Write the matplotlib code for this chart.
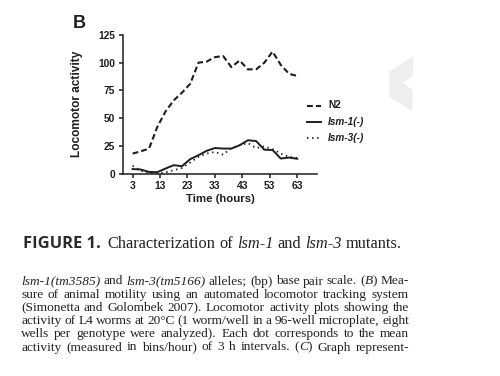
import matplotlib
matplotlib.use("Agg")
import matplotlib.pyplot as plt
from matplotlib.lines import Line2D
from matplotlib.patches import Polygon

# ---------------- data ----------------
hours = [3, 6, 9, 12, 15, 18, 21, 24, 27, 30, 33, 36, 39, 42, 45, 48, 51, 54, 57, 60, 63]
n2 = [18, 20, 22.5, 42, 56, 66, 73, 81, 100, 101, 105, 106, 96, 102, 94, 94, 100, 110, 98, 90, 88]
lsm1 = [4, 3.6, 1.4, 1.2, 4.5, 7.5, 6.6, 13, 16.5, 20.5, 23, 22.5, 22.5, 25.5, 30, 29.3, 21.5, 21.2, 13.5, 14.4, 13.3]
lsm3 = [7, 2.5, 0.5, 0.2, 1, 3, 5, 10, 15, 18, 19.5, 17, 23, 25.5, 27.5, 23, 24.5, 22, 18, 15, 14]
series_labels = ["N2", "lsm-1(-)", "lsm-3(-)"]
xticks = [3, 13, 23, 33, 43, 53, 63]
yticks = [0, 25, 50, 75, 100, 125]

W, H = 500, 376
fig = plt.figure(figsize=(W / 100, H / 100), dpi=100)
fig.patch.set_facecolor("white")

def fx(x):
    return x / W

def fy(y):
    return 1 - y / H

INK = "#1e1e1e"

# ---------------- chart ----------------
ax = fig.add_axes([fx(123), fy(173.5), (317 - 123) / W, (173.5 - 35) / H])
styles = [dict(ls=(0, (2.8, 1.5)), lw=1.5), dict(ls="-", lw=1.4), dict(ls=(0, (0.8, 2.0)), lw=1.3)]
for vals, st in zip([n2, lsm1, lsm3], styles):
    ax.plot(hours, vals, color=INK, linestyle=st["ls"], lw=st["lw"], clip_on=False)
ax.set_xlim(-0.5, 70.2)
ax.set_ylim(0, 125)
ax.set_xticks(xticks)
ax.set_yticks(yticks)
for s in ["top", "right"]:
    ax.spines[s].set_visible(False)
for s in ["left", "bottom"]:
    ax.spines[s].set_linewidth(1.1)
    ax.spines[s].set_color(INK)
ax.tick_params(direction="out", length=3, width=1.1, color=INK, labelsize=7.4, pad=2.5, labelcolor=INK)
for lab in ax.get_xticklabels() + ax.get_yticklabels():
    lab.set_fontfamily("Liberation Sans")
    lab.set_fontweight("bold")
ax.set_xlabel("Time (hours)", fontsize=8.2, fontweight="bold", family="Liberation Sans", color=INK, labelpad=2)
ax.set_ylabel("Locomotor activity", fontsize=8.6, fontweight="bold", family="Liberation Sans", color=INK, labelpad=11)

fig.text(fx(72.5), fy(28.5), "B", fontsize=13, fontweight="bold", family="Liberation Sans", color=INK, va="baseline")

# manual legend
leg_y = [105.5, 121.5, 138]
for lab, st, yy in zip(series_labels, styles, leg_y):
    fig.add_artist(Line2D([fx(307), fx(321)], [fy(yy), fy(yy)], transform=fig.transFigure,
                          color=INK, linestyle=st["ls"], lw=st["lw"]))
    fig.text(fx(328), fy(yy), lab, fontsize=7.2, fontweight="bold", family="Liberation Sans",
             style=("normal" if lab == "N2" else "italic"), color=INK, va="center")

# grey chevron decoration
chev = [(413.3, 56), (389.3, 71.7), (389.3, 96.7), (412.7, 111.7), (412.7, 90), (402.7, 82.7), (412.7, 76)]
fig.add_artist(Polygon([(fx(a), fy(b)) for a, b in chev], closed=True, transform=fig.transFigure,
                       facecolor="#efefef", edgecolor="none"))

# ---------------- caption text ----------------
renderer = fig.canvas.get_renderer()

def make(x, y, s, size, family, italic=False, bold=False, color="#222222"):
    t = fig.text(fx(x), fy(y), s, fontsize=size, family=family,
                 style="italic" if italic else "normal",
                 fontweight="bold" if bold else "normal", va="baseline", ha="left", color=color)
    return t

def width(s, size, family, italic=False, bold=False):
    t = make(0, 0, s, size, family, italic, bold)
    w = t.get_window_extent(renderer).width
    t.remove()
    return w

SERIF = "Liberation Serif"

def draw_word(word, x, y, size, family):
    for seg, it in word:
        make(x, y, seg, size, family, italic=it)
        x += width(seg, size, family, it)
    return x

def word_width(word, size, family):
    return sum(width(seg, size, family, it) for seg, it in word)

N = False
I = True

# caption title
fs_fig = 10.0 * 77 / width("FIGURE 1.", 10.0, "Open Sans", bold=True)
make(23, 247.5, "FIGURE 1.", fs_fig, "Open Sans", bold=True, color="#2a2a2a")
title_words = [[("Characterization", N)], [("of", N)], [("lsm-1", I)], [("and", N)],
               [("lsm-3", I)], [("mutants.", N)]]
TS = 11.8
cx = 107
sp = TS * 0.25 * 100 / 72
for w_ in title_words:
    cx = draw_word(w_, cx, 247.5, TS, SERIF) + sp

lines = [
    [[("lsm-1(tm3585)", I)], [("and", N)], [("lsm-3(tm5166)", I)], [("alleles;", N)], [("(bp)", N)],
     [("base", N)], [("pair", N)], [("scale.", N)], [("(", N), ("B", I), (")", N)], [("Mea-", N)]],
    [[(w, N)] for w in "sure of animal motility using an automated locomotor tracking system".split()],
    [[(w, N)] for w in "(Simonetta and Golombek 2007). Locomotor activity plots showing the".split()],
    [[(w, N)] for w in "activity of L4 worms at 20°C (1 worm/well in a 96-well microplate, eight".split()],
    [[(w, N)] for w in "wells per genotype were analyzed). Each dot corresponds to the mean".split()],
    [[(w, N)] for w in "activity (measured in bins/hour) of 3 h intervals.".split()]
    + [[("(", N), ("C", I), (")", N)], [("Graph", N)], [("represent-", N)]],
]
x0, x1 = 21, 409
MIN_GAP = 3.0
BS = 10.0
for line in lines:
    ww = sum(word_width(w_, 10.0, SERIF) for w_ in line)
    avail = (x1 - x0) - MIN_GAP * (len(line) - 1)
    BS = min(BS, 10.0 * avail / ww)
y0, dy = 284.5, 13.2
for i, words in enumerate(lines):
    yy = y0 + i * dy
    ws = [word_width(w_, BS, SERIF) for w_ in words]
    gap = (x1 - x0 - sum(ws)) / (len(words) - 1)
    x = x0
    for w_, wd in zip(words, ws):
        draw_word(w_, x, yy, BS, SERIF)
        x += wd + gap

fig.savefig("out.png", dpi=100, facecolor="white")
